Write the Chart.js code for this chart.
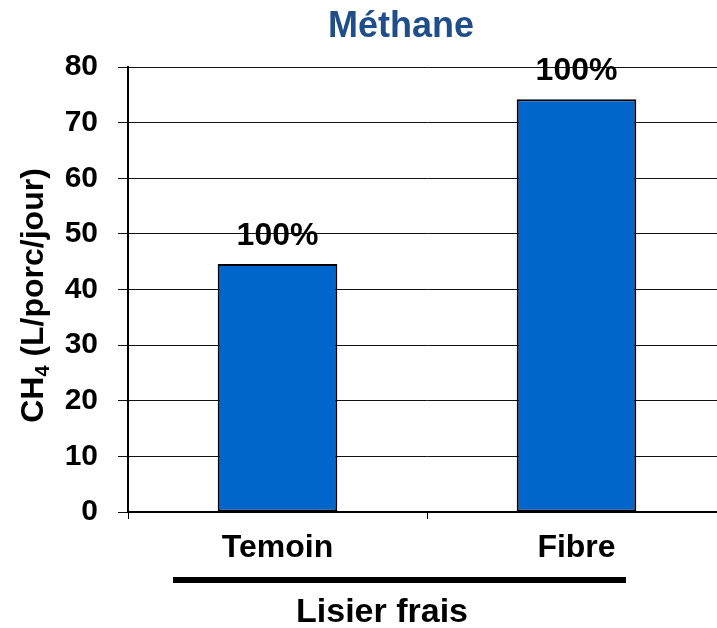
<!DOCTYPE html>
<html>
<head>
<meta charset="utf-8">
<script src="https://cdn.jsdelivr.net/npm/chart.js@4.4.1/dist/chart.umd.min.js"></script>
<style>
  html, body { margin: 0; padding: 0; background: #fff; overflow: hidden; }
  #wrap { width: 760px; height: 628px; position: relative; }
</style>
</head>
<body>
<div id="wrap"><canvas id="chart"></canvas></div>
<script>
  const categories = ["Temoin", "Fibre"];
  const methane = [44.6, 74.2];
  const barLabels = ["100%", "100%"];
  const yTicks = [0, 10, 20, 30, 40, 50, 60, 70, 80];

  const FONT = "'Liberation Sans', Arial, sans-serif";

  // titre, étiquettes des barres, titre Y avec indice, trait de groupe
  const decorations = {
    id: "decorations",
    afterDatasetsDraw(chart) {
      const ctx = chart.ctx;
      const area = chart.chartArea;
      ctx.save();

      // 100% au-dessus des barres
      ctx.fillStyle = "#000";
      ctx.font = "bold 32px " + FONT;
      ctx.textAlign = "center";
      ctx.textBaseline = "alphabetic";
      chart.getDatasetMeta(0).data.forEach((bar, i) => {
        ctx.fillText(barLabels[i], bar.x, bar.y - 19);
      });

      // titre
      ctx.fillStyle = "#1f4e89";
      ctx.font = "bold 36px " + FONT;
      ctx.fillText("Méthane", 401, 37);

      // trait sous les catégories
      ctx.fillStyle = "#000";
      ctx.fillRect(173, 577, 453, 6);

      // titre de groupe
      ctx.font = "bold 34px " + FONT;
      ctx.fillText("Lisier frais", 382, 622);

      // titre Y : CH4 (L/porc/jour)
      const cy = (area.top + area.bottom) / 2 + 6;
      ctx.translate(43, cy);
      ctx.rotate(-Math.PI / 2);
      ctx.textAlign = "left";
      const big = "bold 32px " + FONT;
      const small = "bold 20px " + FONT;
      ctx.font = big;
      const w1 = ctx.measureText("CH").width;
      const w3 = ctx.measureText(" (L/porc/jour)").width;
      ctx.font = small;
      const w2 = ctx.measureText("4").width;
      let x = -(w1 + w2 + w3) / 2;
      ctx.font = big;
      ctx.fillText("CH", x, 0);
      x += w1;
      ctx.font = small;
      ctx.fillText("4", x, 6);
      x += w2;
      ctx.font = big;
      ctx.fillText(" (L/porc/jour)", x, 0);

      ctx.restore();
    }
  };

  new Chart(document.getElementById("chart"), {
    type: "bar",
    data: {
      labels: categories,
      datasets: [{
        data: methane,
        backgroundColor: "#0066cc",
        borderColor: "#000",
        borderWidth: 2,
        borderSkipped: false,
        barPercentage: 0.4,
        categoryPercentage: 1
      }]
    },
    options: {
      responsive: true,
      maintainAspectRatio: false,
      animation: false,
      layout: { padding: { left: 0, right: 34, top: 67, bottom: 0 } },
      plugins: {
        legend: { display: false },
        tooltip: { enabled: false },
        title: { display: false }
      },
      scales: {
        x: {
          offset: true,
          grid: {
            drawOnChartArea: false,
            drawTicks: true,
            tickLength: 7,
            tickColor: "#000"
          },
          border: { color: "#000", width: 2 },
          ticks: {
            color: "#000",
            font: { family: FONT, size: 32, weight: "bold" },
            padding: 10,
            maxRotation: 0
          },
          afterFit(scale) { scale.height = 116; }
        },
        y: {
          min: 0,
          max: 80,
          afterBuildTicks(scale) { scale.ticks = yTicks.map((v) => ({ value: v })); },
          grid: {
            color: "#111",
            lineWidth: 1,
            tickLength: 10,
            tickColor: "#111"
          },
          border: { color: "#000", width: 2 },
          ticks: {
            color: "#000",
            font: { family: FONT, size: 30, weight: "bold" },
            padding: 20
          },
          afterFit(scale) { scale.width = 128; }
        }
      }
    },
    plugins: [decorations]
  });
</script>
</body>
</html>
